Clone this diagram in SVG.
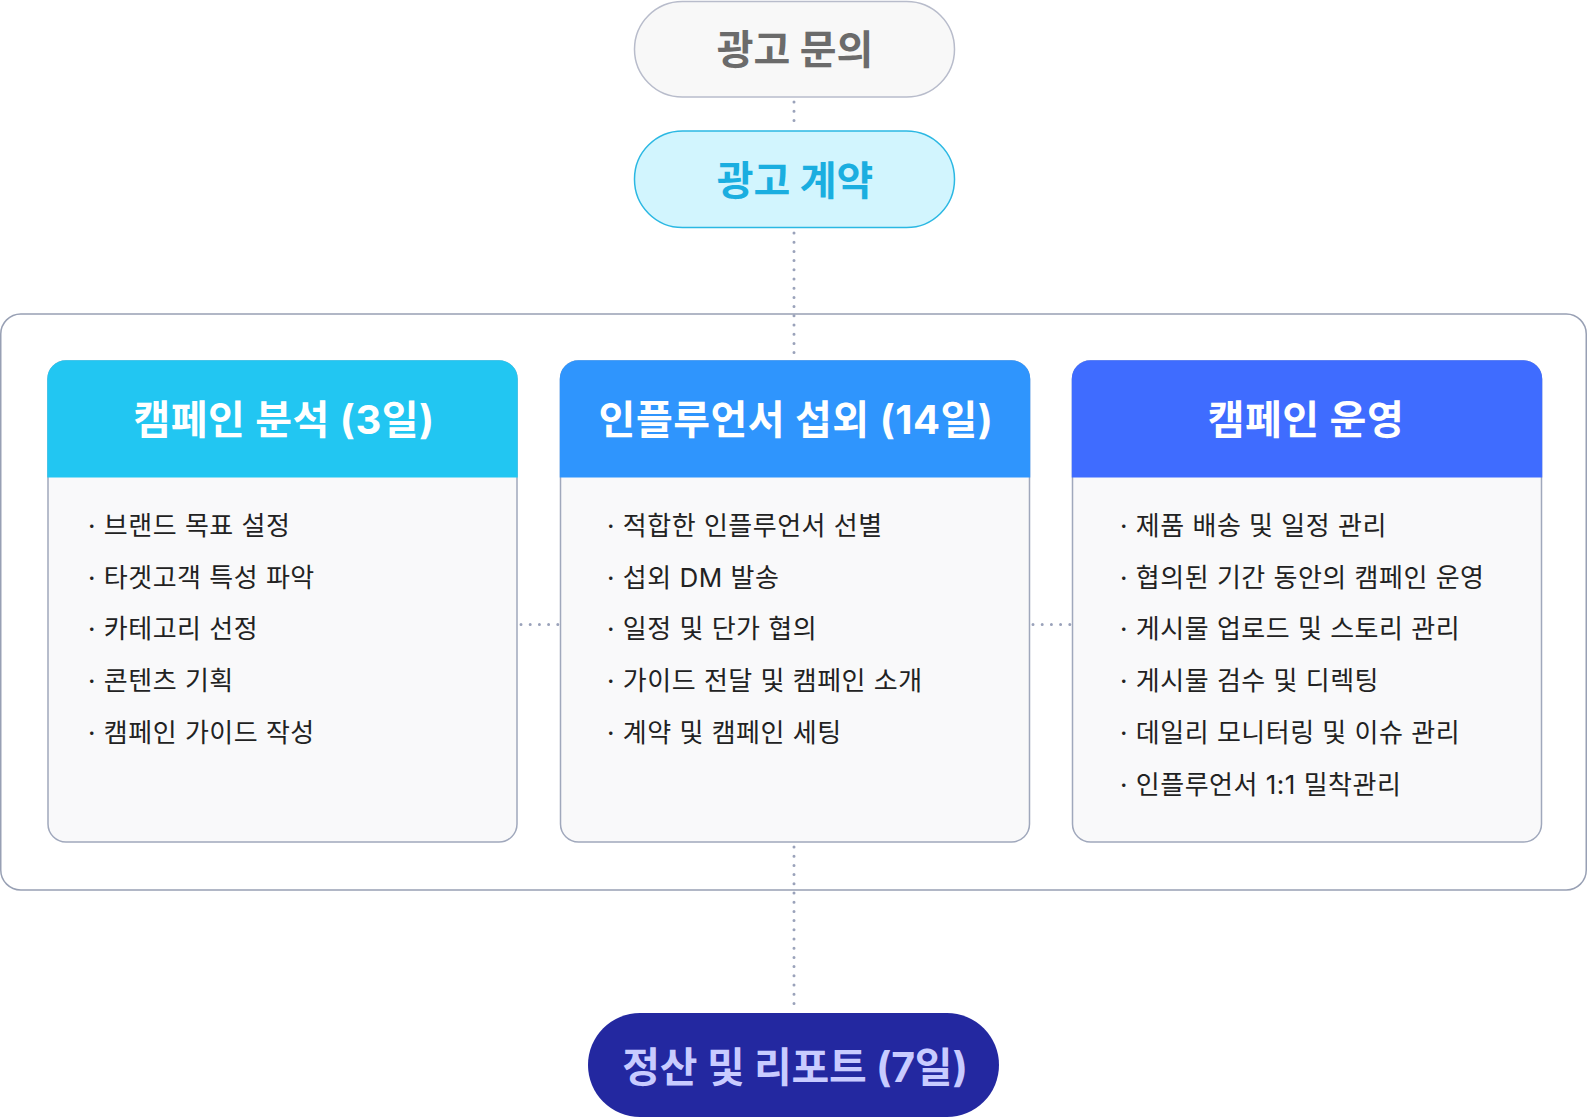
<svg xmlns="http://www.w3.org/2000/svg" width="1587" height="1118" viewBox="0 0 1587 1118">
  <style>
    text { font-family: Inter, "Noto Sans CJK KR", sans-serif; }
    .pill-t { font-size: 40px; font-weight: 700; text-anchor: middle; letter-spacing: 0px; }
    .hdr-t { font-size: 40px; font-weight: 700; text-anchor: middle; fill: #ffffff; letter-spacing: 0.5px; }
    .body-t { font-size: 26px; font-weight: 400; fill: #222222; letter-spacing: 0.5px; }
    .card-body { fill: #f9f9fa; stroke: #a0a8bc; stroke-width: 1.5; }
    .dots { fill: none; stroke: #9aa2ba; stroke-width: 3; stroke-linecap: round; stroke-dasharray: 0 9.2; }
  </style>

  <g id="container">
    <rect x="0.75" y="314" width="1585.5" height="576" rx="20" fill="#ffffff" stroke="#98a0b4" stroke-width="1.5"/>
  </g>

  <g id="connectors">
    <line class="dots" x1="794" y1="102" x2="794" y2="128"/>
    <line class="dots" x1="794" y1="233" x2="794" y2="356"/>
    <line class="dots" x1="794" y1="847" x2="794" y2="1010"/>
    <line class="dots" x1="521" y1="624.5" x2="558" y2="624.5"/>
    <line class="dots" x1="1033" y1="624.5" x2="1070" y2="624.5"/>
  </g>

  <g id="node-inquiry">
    <rect x="634.5" y="1.5" width="320" height="95.5" rx="47.75" fill="#f8f8f8" stroke="#b8bccb" stroke-width="1.5"/>
    <text class="pill-t" x="795" y="64" fill="#6b6b6b">광고 문의</text>
  </g>

  <g id="node-contract">
    <rect x="634.5" y="131" width="320" height="96.5" rx="48" fill="#d2f5fe" stroke="#2bb8e3" stroke-width="1.5"/>
    <text class="pill-t" x="795" y="195" fill="#1aaee0">광고 계약</text>
  </g>

  <g id="node-analysis">
    <rect class="card-body" x="48" y="361" width="469" height="481" rx="18"/>
    <path d="M47.25,477.5 V379 A18.75,18.75 0 0 1 66,360.25 H499 A18.75,18.75 0 0 1 517.75,379 V477.5 Z" fill="#22c6f2"/>
    <text class="hdr-t" x="284" y="434">캠페인 분석 (3일)</text>
    <text class="body-t" x="88" y="535">· 브랜드 목표 설정</text>
    <text class="body-t" x="88" y="586.7">· 타겟고객 특성 파악</text>
    <text class="body-t" x="88" y="638.4">· 카테고리 선정</text>
    <text class="body-t" x="88" y="690.1">· 콘텐츠 기획</text>
    <text class="body-t" x="88" y="741.8">· 캠페인 가이드 작성</text>
  </g>

  <g id="node-recruit">
    <rect class="card-body" x="560.5" y="361" width="469" height="481" rx="18"/>
    <path d="M559.75,477.5 V379 A18.75,18.75 0 0 1 578.5,360.25 H1011.5 A18.75,18.75 0 0 1 1030.25,379 V477.5 Z" fill="#2f95fd"/>
    <text class="hdr-t" x="796" y="434">인플루언서 섭외 (14일)</text>
    <text class="body-t" x="607" y="535">· 적합한 인플루언서 선별</text>
    <text class="body-t" x="607" y="586.7">· 섭외 DM 발송</text>
    <text class="body-t" x="607" y="638.4">· 일정 및 단가 협의</text>
    <text class="body-t" x="607" y="690.1">· 가이드 전달 및 캠페인 소개</text>
    <text class="body-t" x="607" y="741.8">· 계약 및 캠페인 세팅</text>
  </g>

  <g id="node-operation">
    <rect class="card-body" x="1072.5" y="361" width="469" height="481" rx="18"/>
    <path d="M1071.75,477.5 V379 A18.75,18.75 0 0 1 1090.5,360.25 H1523.5 A18.75,18.75 0 0 1 1542.25,379 V477.5 Z" fill="#3f6cff"/>
    <text class="hdr-t" x="1306" y="434">캠페인 운영</text>
    <text class="body-t" x="1120" y="535">· 제품 배송 및 일정 관리</text>
    <text class="body-t" x="1120" y="586.7">· 협의된 기간 동안의 캠페인 운영</text>
    <text class="body-t" x="1120" y="638.4">· 게시물 업로드 및 스토리 관리</text>
    <text class="body-t" x="1120" y="690.1">· 게시물 검수 및 디렉팅</text>
    <text class="body-t" x="1120" y="741.8">· 데일리 모니터링 및 이슈 관리</text>
    <text class="body-t" x="1120" y="793.5">· 인플루언서 1:1 밀착관리</text>
  </g>

  <g id="node-settlement">
    <rect x="588" y="1013" width="411" height="104" rx="52" fill="#2328a0"/>
    <text class="pill-t" x="795" y="1082" fill="#c8cbff" style="font-size:41px;letter-spacing:-0.2px">정산 및 리포트 (7일)</text>
  </g>
</svg>
